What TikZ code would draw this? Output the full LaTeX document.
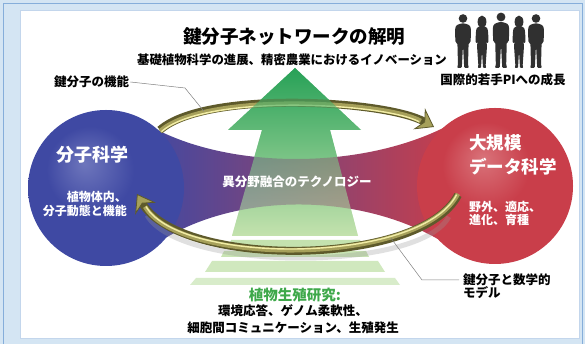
\documentclass[tikz,border=0pt]{standalone}
\usepackage{fontspec}
\setmainfont{Noto Sans CJK JP}
\usetikzlibrary{arrows.meta}

\definecolor{framebg}{HTML}{D4E5F3}
\definecolor{frameline}{HTML}{86AEDA}
\definecolor{bluesph}{HTML}{3F49A3}
\definecolor{bluehi}{HTML}{6E76BC}
\definecolor{blueedge}{HTML}{363E94}
\definecolor{redsph}{HTML}{C93E4A}
\definecolor{redhi}{HTML}{D9737A}
\definecolor{rededge}{HTML}{B8323E}
\definecolor{bandmid}{HTML}{763A70}
\definecolor{arrowtop}{HTML}{27A157}
\definecolor{arrowmid}{HTML}{74C184}
\definecolor{arrowbot}{HTML}{C4E2AE}
\definecolor{ringdark}{HTML}{5E5A2B}
\definecolor{ringmid}{HTML}{A6A05A}
\definecolor{ringlight}{HTML}{F2EDA6}
\definecolor{silh}{HTML}{303030}
\definecolor{plantgreen}{HTML}{3EA84A}

\pgfdeclareradialshading{bluesphere}{\pgfpoint{-7bp}{8bp}}{%
  color(0bp)=(bluehi); color(14bp)=(bluesph); color(30bp)=(bluesph); color(40bp)=(blueedge); color(50bp)=(blueedge)}
\pgfdeclareradialshading{redsphere}{\pgfpoint{-4bp}{9bp}}{%
  color(0bp)=(redhi); color(14bp)=(redsph); color(30bp)=(redsph); color(40bp)=(rededge); color(50bp)=(rededge)}

\tikzset{
  lbl/.style={inner sep=1pt, font=\bfseries\fontsize{12.5}{14}\selectfont},
  big/.style={inner sep=1pt, text=white, font=\bfseries\fontsize{18}{24}\selectfont},
  small/.style={inner sep=1pt, text=white, font=\bfseries\fontsize{12}{14}\selectfont},
  leader/.style={draw=black!50, line width=0.5pt},
  arrowshade/.style={top color=arrowtop, middle color=arrowmid, bottom color=arrowbot},
  stair/.style={fill=arrowbot!#1!white},
  ringbody/.style={draw=ringdark, line width=8pt},
  ringshine/.style={draw=ringmid, line width=4.5pt},
  ringglint/.style={draw=ringlight, line width=1.4pt},
  ringtip/.tip={Stealth[length=17pt, width=24pt, inset=6pt, line width=0.8pt, fill=ringmid]},
  man/.pic={
    \fill[silh] (0,4.95) circle[radius=0.43];
    \fill[silh, rounded corners=1.2pt] (-0.22,4.45) -- (-0.7,4.25) -- (-0.8,3.85) -- (-0.76,2.55)
      -- (-0.56,2.5) -- (-0.5,0.25) -- (-0.62,0) -- (-0.12,0) -- (0,2.3) -- (0.12,0) -- (0.62,0)
      -- (0.5,0.25) -- (0.56,2.5) -- (0.76,2.55) -- (0.8,3.85) -- (0.7,4.25) -- (0.22,4.45) -- cycle;
  },
  woman/.pic={
    \fill[silh] (0,4.62) ellipse[x radius=0.44, y radius=0.62];
    \fill[silh, rounded corners=1pt] (-0.16,4.2) -- (-0.54,4.0) -- (-0.62,3.5) -- (-0.64,2.5) -- (-0.48,2.5)
      -- (-0.4,3.0) -- (-0.5,2.2) -- (-0.36,0.2) -- (-0.45,0) -- (-0.1,0) -- (0,1.7) -- (0.1,0)
      -- (0.45,0) -- (0.36,0.2) -- (0.5,2.2) -- (0.4,3.0) -- (0.48,2.5) -- (0.64,2.5) -- (0.62,3.5)
      -- (0.54,4.0) -- (0.16,4.2) -- cycle;
  }
}

\begin{document}
\begin{tikzpicture}[x=10pt,y=10pt]
\useasboundingbox (0,0) rectangle (58.5,34.4);
\fill[framebg] (0,0) rectangle (58.5,34.4);
\draw[frameline, line width=1pt] (0.3,-1) -- (0.3,34.0) -- (58.2,34.0) -- (58.2,-1);
\draw[frameline!50, fill=white, line width=0.4pt] (2.0,0.6) rectangle (57.9,33.4);

% green arrow, solid copy under the band
\shade[arrowshade] (29.5,27.6) -- (36.1,21.4) -- (33.0,21.4) -- (35.8,10.8)
  -- (23.2,10.8) -- (26.2,21.4) -- (22.8,21.4) -- cycle;

% band between the spheres
\shade[left color=bluesph, middle color=bandmid, right color=redsph]
  (14.0,22.4) .. controls (22.0,17.2) and (37.0,17.2) .. (45.8,22.4)
  -- (45.8,9.2) .. controls (37.0,15.6) and (22.0,15.6) .. (14.0,8.8) -- cycle;

\shade[shading=bluesphere] (10.6,15.6) circle[radius=7.8];
\shade[shading=redsphere] (49.5,15.8) circle[radius=7.8];

% upper ring
\draw[ringbody, -{ringtip}] (16.0,21.4) .. controls (20.5,25.4) and (38.5,24.4) .. (43.4,21.7)
  coordinate[pos=0.21] (ringA);
\draw[ringshine, yshift=-1.2pt, shorten >=15pt] (16.0,21.4) .. controls (20.5,25.4) and (38.5,24.4) .. (43.4,21.7);
\draw[ringglint, yshift=-3pt, shorten >=17pt, shorten <=2pt] (16.0,21.4) .. controls (20.5,25.4) and (38.5,24.4) .. (43.4,21.7);

% see-through copy of the arrow
\shade[arrowshade, fill opacity=0.62] (29.5,27.6) -- (36.1,21.4) -- (33.0,21.4) -- (35.8,10.8)
  -- (23.2,10.8) -- (26.2,21.4) -- (22.8,21.4) -- cycle;

% steps under the arrow
\fill[stair=100] (23.1,10.4) -- (36.0,10.4) -- (36.3,9.5) -- (22.8,9.5) -- cycle;
\fill[stair=92] (22.4,9.3) -- (36.6,9.3) -- (36.9,8.7) -- (22.1,8.7) -- cycle;
\fill[stair=80] (21.2,8.3) -- (37.8,8.3) -- (38.5,7.2) -- (20.5,7.2) -- cycle;
\fill[stair=66] (19.6,6.6) -- (39.5,6.6) -- (40.0,5.9) -- (19.0,5.9) -- cycle;

% lower ring
\draw[black!40, line width=5pt, yshift=-4pt, opacity=0.3, shorten >=20pt, shorten <=20pt]
  (45.8,14.9) .. controls (42.0,7.6) and (18.0,7.6) .. (13.7,15.0);
\draw[ringbody, -{ringtip}] (45.8,14.9) .. controls (42.0,7.6) and (18.0,7.6) .. (13.7,15.0)
  coordinate[pos=0.27] (ringB);
\draw[ringshine, yshift=1.2pt, shorten >=16pt] (45.8,14.9) .. controls (42.0,7.6) and (18.0,7.6) .. (13.7,15.0);
\draw[ringglint, yshift=3pt, shorten >=18pt, shorten <=3pt] (45.8,14.9) .. controls (42.0,7.6) and (18.0,7.6) .. (13.7,15.0);

% people
\pic at (46.3,27.6) {man};
\pic at (48.2,27.6) {woman};
\pic[scale=1.03] at (50.1,27.6) {man};
\pic at (51.9,27.6) {woman};
\pic at (53.6,27.6) {man};

\node[lbl, font=\bfseries\fontsize{18.5}{20}\selectfont] (title) at (29.4,30.7) {鍵分子ネットワークの解明};
\node[lbl, font=\bfseries\fontsize{12.4}{14}\selectfont] (subtitle) at (29.2,28.4) {基礎植物科学の進展、精密農業におけるイノベーション};
\node[lbl] (growth) at (50.3,26.4) {国際的若手PIへの成長};

\node[lbl, anchor=west] (keyfn) at (5.3,26.2) {鍵分子の機能};
\coordinate (bendA) at (18.5,25.6);
\draw[leader] (keyfn.east) -- (bendA) -- (ringA);

\node[big] (molsci) at (9.2,18.9) {分子科学};
\node[small, anchor=east, align=right] (molsub) at (12.8,14.0) {植物体内、\\分子動態と機能};
\node[big, anchor=west, align=left, font=\bfseries\fontsize{17.5}{24}\selectfont] (datasci) at (46.8,18.9) {大規模\\データ科学};
\node[small, anchor=west, align=left, font=\bfseries\fontsize{12}{13.5}\selectfont] (datasub) at (46.8,13.05) {野外、適応、\\進化、育種};

\node[lbl, text=white] (fusion) at (29.7,16.2) {異分野融合のテクノロジー};

\node[lbl, anchor=west, align=left, font=\bfseries\fontsize{12.5}{13}\selectfont] (keymodel) at (46.2,5.75) {鍵分子と数学的\\モデル};
\coordinate (startB) at (45.9,6.4);
\coordinate (bendB) at (42.2,6.4);
\draw[leader] (startB) -- (bendB) -- (ringB);

\node[lbl, text=plantgreen, font=\bfseries\fontsize{14.5}{16}\selectfont] (plant) at (29.5,4.9) {植物生殖研究:};
\node[lbl, align=center, font=\bfseries\fontsize{12.5}{17}\selectfont] (plantsub) at (29.3,2.45) {環境応答、ゲノム柔軟性、\\細胞間コミュニケーション、生殖発生};
\end{tikzpicture}
\end{document}
